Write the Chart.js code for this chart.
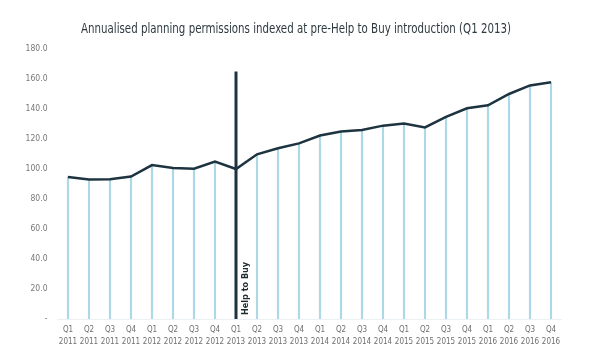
<!DOCTYPE html>
<html><head><meta charset="utf-8">
<script src="https://cdn.jsdelivr.net/npm/chart.js@4"></script>
<style>html,body{margin:0;padding:0;background:#fff}#wrap{width:600px;height:360px}</style>
</head><body><div id="wrap"><canvas id="c" width="600" height="360"></canvas></div>
<script>
const quarters = ["Q1","Q2","Q3","Q4","Q1","Q2","Q3","Q4","Q1","Q2","Q3","Q4","Q1","Q2","Q3","Q4","Q1","Q2","Q3","Q4","Q1","Q2","Q3","Q4"];
const years = ["2011","2011","2011","2011","2012","2012","2012","2012","2013","2013","2013","2013","2014","2014","2014","2014","2015","2015","2015","2015","2016","2016","2016","2016"];
const indexValues = [94.7,93.0,93.2,95.0,102.6,100.7,100.2,105.0,100.0,109.8,113.8,117.1,122.3,125.0,126.0,128.9,130.4,127.7,134.8,140.5,142.5,150.0,155.7,157.9];
const yTicks = [0,20,40,60,80,100,120,140,160,180];
const markerIndex = 8;
const markerLabel = "Help to Buy";
const markerTop = 165;
const titleText = "Annualised planning permissions indexed at pre-Help to Buy introduction (Q1 2013)";

const labels = quarters.map((q,i)=>[q, years[i]]);
const FONT = "'DejaVu Sans Condensed','Liberation Sans',sans-serif";

const titlePlugin = {
  id: 'customTitle',
  afterDraw(chart) {
    const ctx = chart.ctx;
    ctx.save();
    ctx.font = "12px " + FONT;
    ctx.fillStyle = '#2e3a40';
    ctx.textAlign = 'center';
    ctx.textBaseline = 'middle';
    const w = ctx.measureText(titleText).width;
    const sx = 430 / w;
    ctx.translate(296, 30);
    ctx.scale(sx, 1.1);
    ctx.fillText(titleText, 0, 0);
    ctx.restore();
  }
};

const markerPlugin = {
  id: 'marker',
  afterDatasetsDraw(chart) {
    const {ctx, scales:{x,y}} = chart;
    const px = x.getPixelForValue(markerIndex);
    ctx.save();
    ctx.strokeStyle = '#1d3340';
    ctx.lineWidth = 3;
    ctx.beginPath();
    ctx.moveTo(px, y.getPixelForValue(markerTop));
    ctx.lineTo(px, y.getPixelForValue(0));
    ctx.stroke();
    ctx.translate(px + 10, y.getPixelForValue(0) - 4);
    ctx.rotate(-Math.PI/2);
    ctx.fillStyle = '#1d2b33';
    ctx.font = "bold 9px " + FONT;
    ctx.textAlign = 'left';
    ctx.textBaseline = 'middle';
    ctx.fillText(markerLabel, 0, 0);
    ctx.restore();
  }
};

new Chart(document.getElementById('c'), {
  type: 'bar',
  data: {
    labels: labels,
    datasets: [
      { type:'line', data: indexValues, borderColor:'#1d3340', borderWidth:2.5, pointRadius:0, tension:0, order:0 },
      { type:'bar', data: indexValues, backgroundColor:'#add8e7', barThickness:1.5, order:1 }
    ]
  },
  options: {
    responsive:false, animation:false,
    layout:{ padding:{ left:0, right:38.5, top:49, bottom:0 } },
    plugins:{
      legend:{display:false}, tooltip:{enabled:false}, title:{display:false}
    },
    scales:{
      x:{
        offset:true,
        grid:{display:false, drawTicks:false},
        border:{display:true, color:'#eaf1f4', width:1},
        ticks:{color:'#6f6f6f', font:{family:FONT, size:8, lineHeight:1.5}, padding:5, maxRotation:0, autoSkip:false},
        afterFit(s){ s.height = 41; }
      },
      y:{
        min:0, max:180,
        afterBuildTicks(s){ s.ticks = yTicks.map(v=>({value:v})); },
        grid:{display:false, drawTicks:false},
        border:{display:false},
        ticks:{color:'#777777', font:{family:FONT, size:8.5}, padding:10, callback:(v)=> v===0 ? '-' : v.toFixed(1)},
        afterFit(s){ s.width = 57.5; }
      }
    }
  },
  plugins:[markerPlugin, titlePlugin]
});
</script></body></html>
